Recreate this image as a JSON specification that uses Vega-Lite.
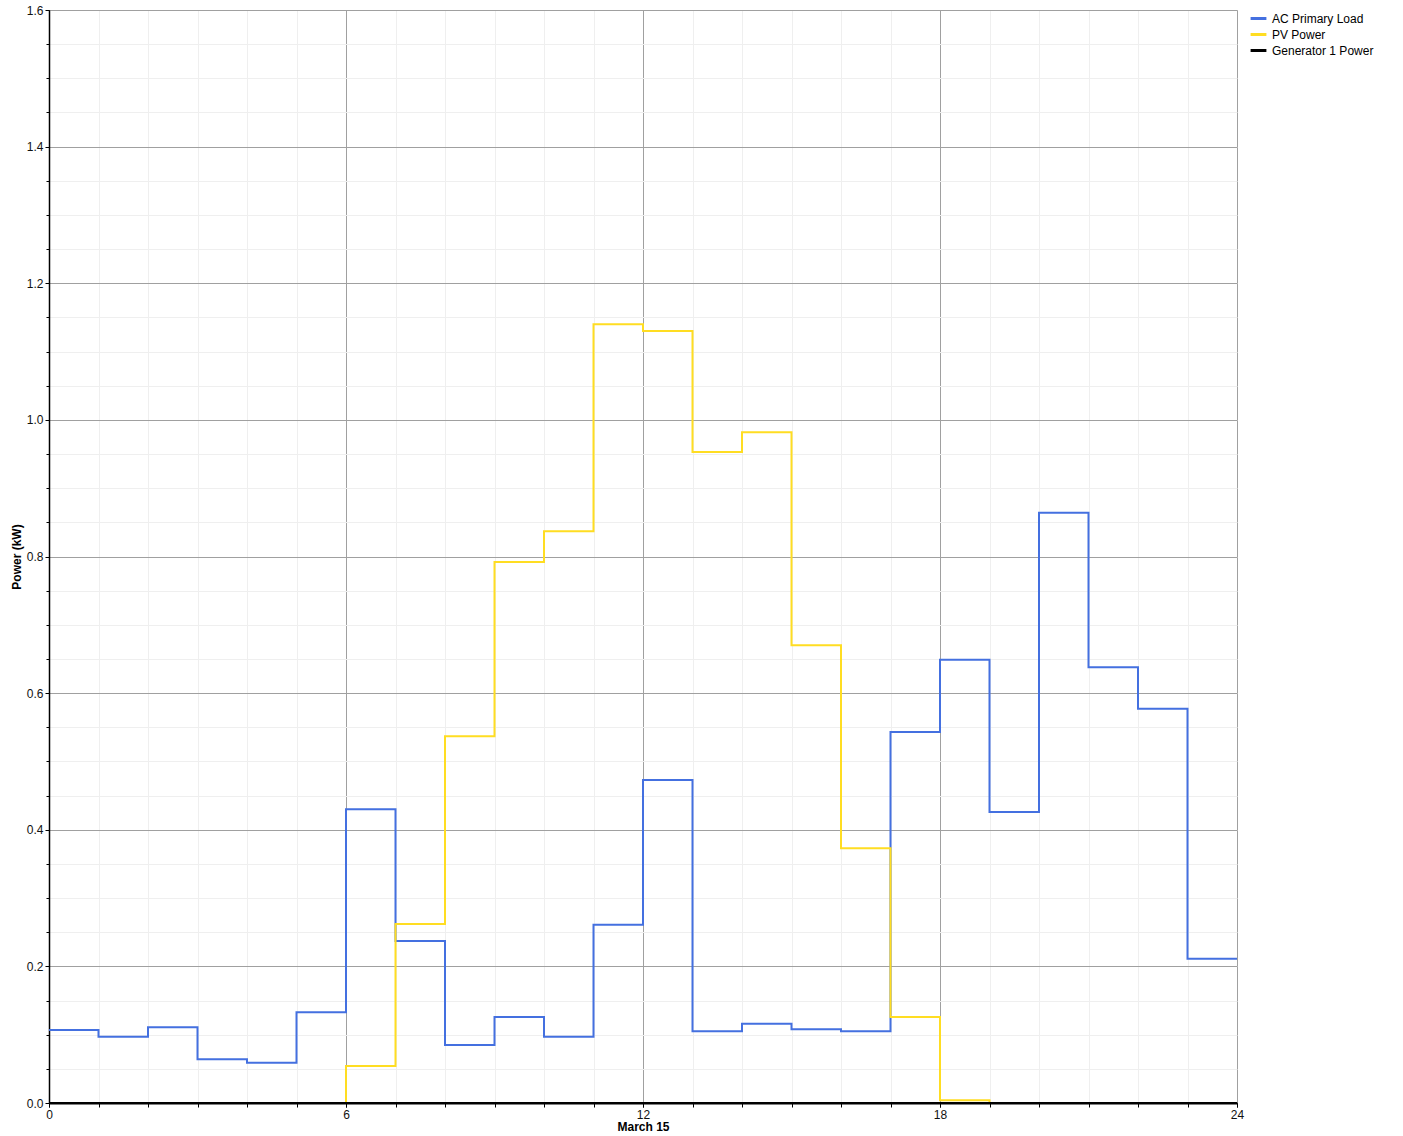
{
  "$schema": "https://vega.github.io/schema/vega-lite/v6.json",
  "width": 1188,
  "height": 1093,
  "autosize": {"type": "none"},
  "padding": {"left": 49, "top": 10, "right": 166, "bottom": 33},
  "background": "#ffffff",
  "config": {
    "view": {"stroke": "#222222", "strokeWidth": 1},
    "font": "Liberation Sans",
    "axis": {"labelFont": "Liberation Sans", "titleFont": "Liberation Sans", "labelColor": "#111111", "titleColor": "#000000", "labelFlush": false, "labelOverlap": false}
  },
  "data": {
    "values": [
      {"hour": 0, "series": "AC Primary Load", "kW": 0.107},
      {"hour": 1, "series": "AC Primary Load", "kW": 0.097},
      {"hour": 2, "series": "AC Primary Load", "kW": 0.111},
      {"hour": 3, "series": "AC Primary Load", "kW": 0.064},
      {"hour": 4, "series": "AC Primary Load", "kW": 0.059},
      {"hour": 5, "series": "AC Primary Load", "kW": 0.133},
      {"hour": 6, "series": "AC Primary Load", "kW": 0.430},
      {"hour": 7, "series": "AC Primary Load", "kW": 0.237},
      {"hour": 8, "series": "AC Primary Load", "kW": 0.085},
      {"hour": 9, "series": "AC Primary Load", "kW": 0.126},
      {"hour": 10, "series": "AC Primary Load", "kW": 0.097},
      {"hour": 11, "series": "AC Primary Load", "kW": 0.261},
      {"hour": 12, "series": "AC Primary Load", "kW": 0.473},
      {"hour": 13, "series": "AC Primary Load", "kW": 0.105},
      {"hour": 14, "series": "AC Primary Load", "kW": 0.116},
      {"hour": 15, "series": "AC Primary Load", "kW": 0.108},
      {"hour": 16, "series": "AC Primary Load", "kW": 0.105},
      {"hour": 17, "series": "AC Primary Load", "kW": 0.543},
      {"hour": 18, "series": "AC Primary Load", "kW": 0.649},
      {"hour": 19, "series": "AC Primary Load", "kW": 0.426},
      {"hour": 20, "series": "AC Primary Load", "kW": 0.864},
      {"hour": 21, "series": "AC Primary Load", "kW": 0.638},
      {"hour": 22, "series": "AC Primary Load", "kW": 0.577},
      {"hour": 23, "series": "AC Primary Load", "kW": 0.211},
      {"hour": 24, "series": "AC Primary Load", "kW": 0.211},
      {"hour": 0, "series": "PV Power", "kW": 0},
      {"hour": 1, "series": "PV Power", "kW": 0},
      {"hour": 2, "series": "PV Power", "kW": 0},
      {"hour": 3, "series": "PV Power", "kW": 0},
      {"hour": 4, "series": "PV Power", "kW": 0},
      {"hour": 5, "series": "PV Power", "kW": 0},
      {"hour": 6, "series": "PV Power", "kW": 0.054},
      {"hour": 7, "series": "PV Power", "kW": 0.262},
      {"hour": 8, "series": "PV Power", "kW": 0.537},
      {"hour": 9, "series": "PV Power", "kW": 0.792},
      {"hour": 10, "series": "PV Power", "kW": 0.837},
      {"hour": 11, "series": "PV Power", "kW": 1.140},
      {"hour": 12, "series": "PV Power", "kW": 1.130},
      {"hour": 13, "series": "PV Power", "kW": 0.953},
      {"hour": 14, "series": "PV Power", "kW": 0.982},
      {"hour": 15, "series": "PV Power", "kW": 0.670},
      {"hour": 16, "series": "PV Power", "kW": 0.373},
      {"hour": 17, "series": "PV Power", "kW": 0.126},
      {"hour": 18, "series": "PV Power", "kW": 0.004},
      {"hour": 19, "series": "PV Power", "kW": 0},
      {"hour": 20, "series": "PV Power", "kW": 0},
      {"hour": 21, "series": "PV Power", "kW": 0},
      {"hour": 22, "series": "PV Power", "kW": 0},
      {"hour": 23, "series": "PV Power", "kW": 0},
      {"hour": 24, "series": "PV Power", "kW": 0},
      {"hour": 0, "series": "Generator 1 Power", "kW": 0},
      {"hour": 6, "series": "Generator 1 Power", "kW": 0},
      {"hour": 12, "series": "Generator 1 Power", "kW": 0},
      {"hour": 18, "series": "Generator 1 Power", "kW": 0},
      {"hour": 24, "series": "Generator 1 Power", "kW": 0}
    ]
  },
  "resolve": {"axis": {"x": "independent", "y": "independent"}},
  "layer": [
    {
      "mark": {"type": "point", "opacity": 0},
      "encoding": {
        "x": {
          "field": "hour", "type": "quantitative",
          "scale": {"domain": [0, 24], "nice": false, "zero": false},
          "axis": {
            "orient": "bottom",
            "values": [0,1,2,3,4,5,6,7,8,9,10,11,12,13,14,15,16,17,18,19,20,21,22,23,24],
            "labels": false, "domain": false, "title": null,
            "ticks": true, "tickColor": "#000000", "tickSize": 4, "tickWidth": 1,
            "grid": true, "gridColor": "#efefef", "gridWidth": 1
          }
        },
        "y": {
          "field": "kW", "type": "quantitative",
          "scale": {"domain": [0, 1.6], "nice": false},
          "axis": {
            "orient": "left",
            "values": [0,0.05,0.1,0.15,0.2,0.25,0.3,0.35,0.4,0.45,0.5,0.55,0.6,0.65,0.7,0.75,0.8,0.85,0.9,0.95,1.0,1.05,1.1,1.15,1.2,1.25,1.3,1.35,1.4,1.45,1.5,1.55,1.6],
            "labels": false, "domain": false, "title": null,
            "ticks": true, "tickColor": "#000000", "tickSize": 3, "tickWidth": 1,
            "grid": true, "gridColor": "#efefef", "gridWidth": 1
          }
        }
      }
    },
    {
      "mark": {"type": "line", "interpolate": "step-after", "strokeWidth": 2},
      "encoding": {
        "x": {
          "field": "hour", "type": "quantitative",
          "scale": {"domain": [0, 24], "nice": false, "zero": false},
          "axis": {
            "orient": "bottom",
            "values": [0, 6, 12, 18, 24],
            "title": "March 15", "titleFontSize": 12, "titleFontWeight": "bold", "titlePadding": 1,
            "labelFontSize": 12, "labelPadding": 2,
            "domain": true, "domainColor": "#000000", "domainWidth": 2,
            "ticks": true, "tickColor": "#000000", "tickSize": 4,
            "grid": true, "gridColor": "#a0a0a0", "gridWidth": 1
          }
        },
        "y": {
          "field": "kW", "type": "quantitative",
          "scale": {"domain": [0, 1.6], "nice": false},
          "axis": {
            "orient": "left",
            "values": [0, 0.2, 0.4, 0.6, 0.8, 1.0, 1.2, 1.4, 1.6],
            "format": ".1f",
            "title": "Power (kW)", "titleFontSize": 12, "titleFontWeight": "bold", "titlePadding": 3,
            "labelFontSize": 12, "labelPadding": 2,
            "domain": true, "domainColor": "#000000", "domainWidth": 1.5,
            "ticks": true, "tickColor": "#000000", "tickSize": 4,
            "grid": true, "gridColor": "#a0a0a0", "gridWidth": 1
          }
        },
        "color": {
          "field": "series", "type": "nominal",
          "scale": {
            "domain": ["AC Primary Load", "PV Power", "Generator 1 Power"],
            "range": ["#4470E0", "#FFDD22", "#000000"]
          },
          "legend": {
            "title": null, "orient": "none", "legendX": 1200, "legendY": -1,
            "symbolType": "stroke", "symbolStrokeWidth": 3, "symbolSize": 250,
            "labelFontSize": 12, "labelFont": "Liberation Sans", "labelColor": "#000000",
            "labelOffset": 4, "rowPadding": 0, "labelLimit": 300
          }
        },
        "order": {"field": "hour", "type": "quantitative"}
      }
    }
  ]
}
